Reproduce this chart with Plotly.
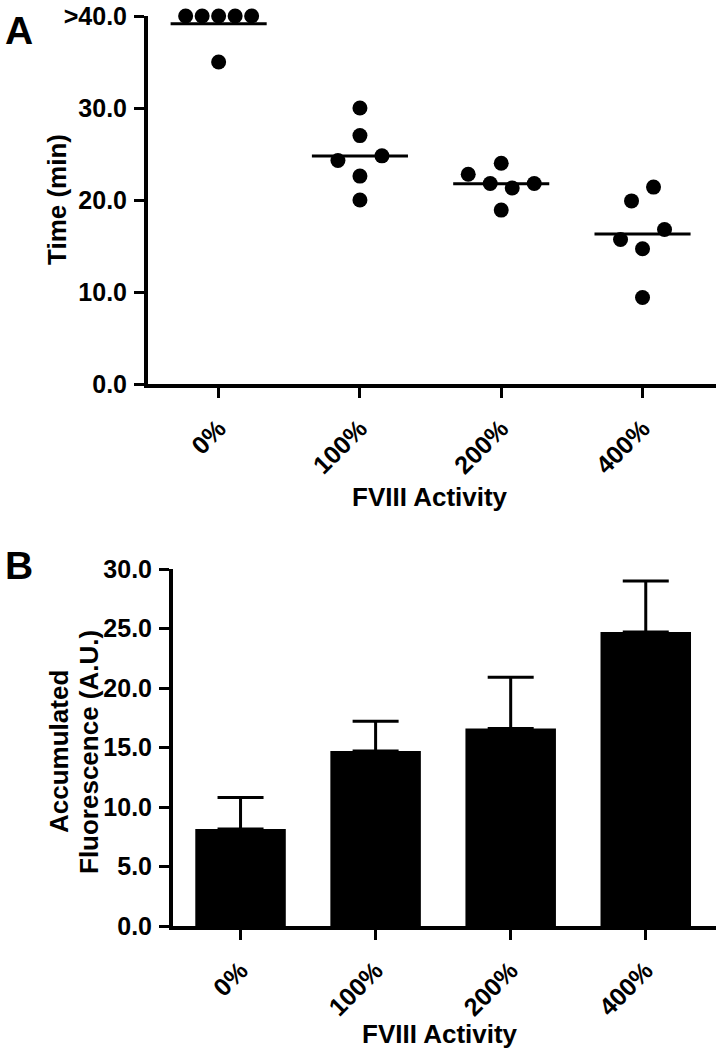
import numpy as np
import plotly.graph_objects as go

# ---------------- data ----------------
categories = ["0%", "100%", "200%", "400%"]

# Panel A: clotting time (min), six replicates per FVIII level
time_0 = [40, 40, 40, 40, 40, 35]
time_100 = [30, 27, 24.3, 22.6, 24.8, 20]
time_200 = [24, 22.8, 21.8, 21.3, 21.8, 18.9]
time_400 = [19.9, 21.4, 15.7, 14.7, 16.8, 9.4]
time_tick_values = [0, 10, 20, 30, 40]
time_tick_labels = ["0.0", "10.0", "20.0", "30.0", ">40.0"]

# Panel B: accumulated fluorescence (A.U.), mean and upper error
fluor_mean = [8.15, 14.7, 16.6, 24.7]
fluor_err = [2.65, 2.5, 4.3, 4.3]
fluor_tick_values = [0, 5, 10, 15, 20, 25, 30]
fluor_tick_labels = ["0.0", "5.0", "10.0", "15.0", "20.0", "25.0", "30.0"]

# ---------------- layout constants ----------------
W, H = 716, 1050
FONT = "Liberation Sans"
XR = [-0.5, 3.52]

A_x0, A_y0, A_y1 = 148, 16, 384      # pixel geometry panel A
B_x0, B_y0, B_y1 = 173, 569, 926     # pixel geometry panel B

px_per_unit_A = (W - A_x0) / (XR[1] - XR[0])


def swarm_offsets(values, row_gap=2.25, spacing_px=22, max_span_px=66):
    vals = np.asarray(values, float)
    order = np.argsort(vals, kind="stable")
    rows, cur = [], [order[0]]
    for i in order[1:]:
        if vals[i] - vals[cur[0]] < row_gap:
            cur.append(i)
        else:
            rows.append(cur)
            cur = [i]
    rows.append(cur)
    off = np.zeros(len(vals))
    for r in rows:
        r = sorted(r)
        n = len(r)
        if n > 1:
            s = min(spacing_px, max_span_px / (n - 1))
            for k, i in enumerate(r):
                off[i] = (k - (n - 1) / 2) * s / px_per_unit_A
    return off


groups = [time_0, time_100, time_200, time_400]

fig = go.Figure()

# ---- Panel A scatter ----
for gi, vals in enumerate(groups):
    off = swarm_offsets(vals)
    fig.add_trace(go.Scatter(
        x=gi + off, y=vals, mode="markers",
        marker=dict(size=15, color="black"),
        xaxis="x", yaxis="y", showlegend=False, cliponaxis=False,
    ))
    m = float(np.mean(vals))
    fig.add_trace(go.Scatter(
        x=[gi - 0.34, gi + 0.34], y=[m, m], mode="lines",
        line=dict(color="black", width=3),
        xaxis="x", yaxis="y", showlegend=False, cliponaxis=False,
    ))

# ---- Panel B bars ----
fig.add_trace(go.Bar(
    x=list(range(len(categories))), y=fluor_mean, width=0.67,
    marker=dict(color="black", line=dict(width=0)),
    xaxis="x2", yaxis="y2", showlegend=False,
))
# upper error bars (drawn from bar top)
fig.add_trace(go.Scatter(
    x=list(range(len(categories))), y=fluor_mean, mode="markers",
    marker=dict(size=1, color="rgba(0,0,0,0)"),
    error_y=dict(type="data", array=fluor_err, arrayminus=[0] * len(fluor_err),
                 symmetric=False, color="black", thickness=3, width=23),
    xaxis="x2", yaxis="y2", showlegend=False, cliponaxis=False,
))

tickfont = dict(family=FONT, size=25, color="black", weight="bold")
common_axis = dict(showline=True, linewidth=4, linecolor="black", showgrid=False,
                   zeroline=False, ticks="outside", ticklen=10, tickwidth=3,
                   tickcolor="black", tickfont=tickfont, automargin=False,
                   ticklabeloverflow="allow")

fig.update_layout(
    width=W, height=H,
    margin=dict(l=0, r=0, t=0, b=0, autoexpand=False),
    paper_bgcolor="white", plot_bgcolor="white",
    xaxis=dict(domain=[A_x0 / W, 1], range=XR, tickvals=list(range(4)),
               ticktext=categories, tickangle=-45, anchor="y",
               ticklabelstandoff=6, **common_axis),
    yaxis=dict(domain=[1 - A_y1 / H, 1 - A_y0 / H], range=[0, 40],
               tickvals=time_tick_values, ticktext=time_tick_labels,
               anchor="x", ticklabelstandoff=2, **common_axis),
    xaxis2=dict(domain=[B_x0 / W, 1], range=XR, tickvals=list(range(4)),
                ticktext=categories, tickangle=-45, anchor="y2",
                ticklabelstandoff=6, **common_axis),
    yaxis2=dict(domain=[1 - B_y1 / H, 1 - B_y0 / H], range=[0, 30],
                tickvals=fluor_tick_values, ticktext=fluor_tick_labels,
                anchor="x2", ticklabelstandoff=2, **common_axis),
)

titlefont = dict(family=FONT, size=26, color="black", weight="bold")
letterfont = dict(family=FONT, size=39, color="black", weight="bold")


def ann(text, x, y, font, angle=0):
    fig.add_annotation(text=text, x=x / W, y=1 - y / H, xref="paper", yref="paper",
                       showarrow=False, font=font, textangle=angle,
                       xanchor="center", yanchor="middle")


ann("A", 19, 30, letterfont)
ann("B", 19, 565, letterfont)
ann("Time (min)", 57, 200, titlefont, -90)
ann("FVIII Activity", 430, 497, titlefont)
ann("Accumulated", 59, 752, titlefont, -90)
ann("Fluorescence (A.U.)", 89, 752, titlefont, -90)
ann("FVIII Activity", 440, 1034, titlefont)

fig.write_html("out.html", config={"displayModeBar": False},
               post_script="document.body.style.margin='0px';document.body.style.overflow='hidden';")
